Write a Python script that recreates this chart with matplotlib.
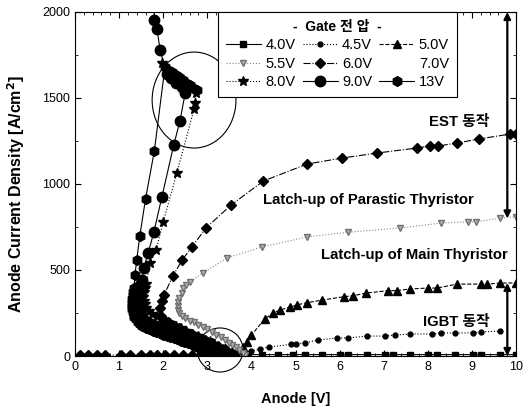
import matplotlib
matplotlib.use("Agg")
import matplotlib.pyplot as plt
from matplotlib.patches import Ellipse
from matplotlib.lines import Line2D

plt.rcParams['font.family'] = ['Liberation Sans', 'Noto Sans CJK KR', 'DejaVu Sans']

# ---- data ----
v40_x = [3.3, 3.6, 3.9, 4.25, 4.6, 4.95, 5.22, 5.6, 6.0, 6.2, 6.62, 7.03, 7.21, 7.6, 8.0, 8.2, 8.62, 9.02, 9.2, 9.64, 10.0]
v40_y = [5, 6, 8, 8, 8, 8, 8, 8, 8, 8, 8, 8, 8, 8, 8, 8, 8, 8, 8, 8, 8]

v45_x = [3.6, 3.8, 4.0, 4.2, 4.4, 4.9, 5.0, 5.22, 5.5, 5.95, 6.2, 6.62, 7.03, 7.25, 7.6, 8.1, 8.3, 8.62, 9.02, 9.2, 9.64]
v45_y = [5, 20, 30, 40, 52, 68, 70, 76, 93, 105, 105, 116, 116, 122, 128, 128, 134, 134, 134, 140, 145]

v50_x = [3.5, 3.65, 3.8, 3.9, 4.0, 4.3, 4.49, 4.65, 4.88, 5.03, 5.26, 5.6, 6.1, 6.3, 6.6, 7.1, 7.3, 7.6, 8.0, 8.2, 8.66, 9.2, 9.35, 9.64, 10.0]
v50_y = [5, 20, 50, 80, 122, 215, 250, 267, 285, 297, 310, 325, 345, 350, 366, 380, 380, 390, 395, 395, 418, 418, 418, 424, 425]

v55_x = [3.85, 3.8, 3.72, 3.65, 3.57, 3.5, 3.4, 3.3, 3.2, 3.1, 3.0, 2.9, 2.8, 2.7, 2.6, 2.5, 2.42, 2.36, 2.33, 2.33, 2.34, 2.37, 2.42, 2.45, 2.52, 2.6, 2.9, 3.45, 4.24, 5.26, 6.2, 7.37, 8.3, 8.9, 9.1, 9.64, 10.0]
v55_y = [5, 20, 35, 50, 62, 75, 92, 110, 125, 140, 155, 170, 182, 195, 205, 220, 235, 250, 270, 290, 315, 340, 368, 395, 412, 430, 482, 570, 634, 692, 720, 744, 773, 780, 780, 802, 810]

v60_x = [0.12, 0.3, 0.5, 0.68, 1.05, 1.25, 1.5, 1.7, 1.85, 2.05, 2.25, 2.45, 2.65, 2.85, 3.05, 3.25, 3.45, 3.55,
         3.4, 3.25, 3.1, 2.95, 2.8, 2.65, 2.5, 2.35, 2.2, 2.1, 2.02, 1.96, 1.93, 1.97, 2.02, 2.22, 2.43, 2.65, 2.97, 3.54,
         4.27, 5.26, 6.06, 6.85, 7.75, 8.05, 8.23, 8.66, 9.16, 9.86, 10.0]
v60_y = [5, 5, 5, 5, 5, 5, 5, 5, 5, 5, 5, 5, 5, 5, 5, 5, 8, 15,
         40, 60, 78, 95, 112, 128, 145, 160, 178, 195, 212, 235, 280, 320, 355, 465, 558, 634, 744, 878,
         1017, 1116, 1151, 1180, 1209, 1221, 1221, 1238, 1262, 1290, 1290]

v80_x = [3.5, 3.42, 3.35, 3.25, 3.15, 3.05, 2.9, 2.78, 2.65, 2.52, 2.4, 2.28, 2.15, 2.05, 1.95, 1.85, 1.75, 1.68, 1.62,
         1.58, 1.56, 1.55, 1.56, 1.58, 1.62, 1.7, 1.84, 2.0, 2.31, 2.7, 2.72, 2.75, 1.97]
v80_y = [15, 28, 40, 55, 70, 85, 100, 115, 130, 145, 160, 175, 190, 203, 215, 230, 245, 262, 280,
         300, 320, 345, 370, 395, 420, 540, 616, 779, 1064, 1436, 1471, 1530, 1703]

v90_x = [3.45, 3.38, 3.3, 3.22, 3.14, 3.06, 2.98, 2.9, 2.82, 2.72, 2.64, 2.56, 2.48, 2.4, 2.32, 2.24, 2.16, 2.08, 2.0,
         1.92, 1.84, 1.76, 1.68, 1.62, 1.57, 1.52, 1.49, 1.46, 1.44, 1.43, 1.42, 1.42, 1.42, 1.43, 1.45, 1.48,
         1.52, 1.56, 1.66, 1.79, 1.97, 2.24, 2.38, 2.5,
         2.42, 2.3, 2.18, 2.08, 1.93, 1.86, 1.8, 1.79]
v90_y = [8, 17, 25, 33, 42, 50, 58, 66, 75, 84, 92, 100, 108, 116, 124, 132, 140, 148, 156,
         164, 172, 180, 190, 200, 212, 224, 236, 250, 265, 280, 300, 320, 340, 360, 385, 410,
         440, 512, 599, 721, 924, 1227, 1366, 1530,
         1565, 1590, 1615, 1640, 1779, 1900, 1953, 2050]

v13_x = [3.35, 3.28, 3.2, 3.12, 3.04, 2.96, 2.88, 2.8, 2.72, 2.64, 2.56, 2.48, 2.4, 2.32, 2.24, 2.16, 2.08, 2.0, 1.92,
         1.84, 1.76, 1.68, 1.6, 1.53, 1.47, 1.42, 1.38, 1.35, 1.33, 1.31, 1.3, 1.3, 1.3, 1.3, 1.31, 1.32, 1.34,
         1.36, 1.4, 1.47, 1.6, 1.8,
         2.04, 2.12, 2.2, 2.28, 2.36, 2.44, 2.52, 2.6, 2.68, 2.77]
v13_y = [5, 12, 19, 26, 33, 40, 47, 54, 61, 68, 75, 82, 89, 96, 103, 110, 117, 124, 131,
         138, 146, 155, 165, 176, 188, 200, 213, 226, 240, 256, 272, 290, 310, 330, 350, 372, 395,
         471, 558, 698, 913, 1192,
         1680, 1665, 1650, 1635, 1620, 1605, 1590, 1575, 1560, 1547]

v70_x = []
v70_y = []

# ---- figure ----
fig = plt.figure(figsize=(5.24, 4.13), dpi=100)
ax = fig.add_axes([0.143, 0.138, 0.842, 0.833])

lw = 0.8
h40, = ax.plot(v40_x, v40_y, '-', color='black', lw=lw, marker='s', ms=4.5, label='4.0V')
h45, = ax.plot(v45_x, v45_y, ':', color='black', lw=lw, marker='o', ms=3.5, label='4.5V')
h50, = ax.plot(v50_x, v50_y, '--', color='black', lw=lw, marker='^', ms=6, label='5.0V')
h55, = ax.plot(v55_x, v55_y, ':', color='#8a8a8a', lw=lw, marker='v', ms=5, mfc='#b0b0b0', mec='#707070', label='5.5V')
h60, = ax.plot(v60_x, v60_y, '-.', color='black', lw=lw, marker='D', ms=5, label='6.0V')
h70 = Line2D([], [], color='none', marker='None', label='7.0V')
h80, = ax.plot(v80_x, v80_y, ':', color='black', lw=lw, marker='*', ms=7.5, label='8.0V')
h90, = ax.plot(v90_x, v90_y, '-', color='black', lw=lw, marker='o', ms=7.5, label='9.0V')
h13, = ax.plot(v13_x, v13_y, '-', color='black', lw=lw, marker='h', ms=7, label='13V')

ax.set_xlim(0, 10)
ax.set_ylim(0, 2000)
ax.set_xticks(range(0, 11))
ax.set_yticks([0, 500, 1000, 1500, 2000])
ax.set_xticks([i * 0.2 for i in range(51)], minor=True)
ax.set_yticks([i * 250 for i in range(9)], minor=True)
ax.tick_params(which='both', direction='in', top=True, right=True, labelsize=9)
ax.tick_params(which='major', length=4)
ax.tick_params(which='minor', length=2)
for s in ax.spines.values():
    s.set_linewidth(0.8)

ax.set_xlabel('Anode [V]', fontsize=10.5, fontweight='bold', labelpad=14)
ax.set_ylabel('Anode Current Density [A/cm$^\\mathbf{2}$]', fontsize=11.5, fontweight='bold', labelpad=5)
ax.yaxis.set_label_coords(-0.108, 0.47)

# annotations
ax.add_patch(Ellipse((2.7, 1488), 1.9, 558, fill=False, lw=0.8, color='black'))
ax.add_patch(Ellipse((3.29, 35), 1.04, 256, fill=False, lw=0.8, color='black', clip_on=False))

ax.annotate('', xy=(9.8, 2000), xytext=(9.8, 800),
            arrowprops=dict(arrowstyle='<|-|>', color='black', lw=1.6, mutation_scale=10, shrinkA=0, shrinkB=0))
ax.annotate('', xy=(9.8, 425), xytext=(9.8, 0),
            arrowprops=dict(arrowstyle='<|-|>', color='black', lw=1.6, mutation_scale=10, shrinkA=0, shrinkB=0))

tfs = 10.7
ax.text(9.4, 1360, 'EST 동작', ha='right', va='center', fontsize=tfs, fontweight='bold')
ax.text(4.26, 907, 'Latch-up of Parastic Thyristor', ha='left', va='center', fontsize=tfs, fontweight='bold')
ax.text(9.82, 587, 'Latch-up of Main Thyristor', ha='right', va='center', fontsize=tfs, fontweight='bold')
ax.text(9.41, 198, 'IGBT 동작', ha='right', va='center', fontsize=tfs, fontweight='bold')

handles = [h40, h55, h80, h45, h60, h90, h50, h70, h13]
leg = ax.legend(handles=handles, labels=[h.get_label() for h in handles], ncol=3,
                loc='upper left', bbox_to_anchor=(0.324, 0.759, 0.542, 0.241), mode='expand',
                title='-  Gate 전 압  -', title_fontproperties={'weight': 'bold', 'size': 10},
                fontsize=10.5, frameon=True, fancybox=False, edgecolor='black', framealpha=1,
                handlelength=2.4, handletextpad=0.3, columnspacing=0.5, borderaxespad=0,
                labelspacing=0.3, borderpad=0.55)
leg.get_frame().set_linewidth(0.8)

fig.savefig('out.png', dpi=100)
